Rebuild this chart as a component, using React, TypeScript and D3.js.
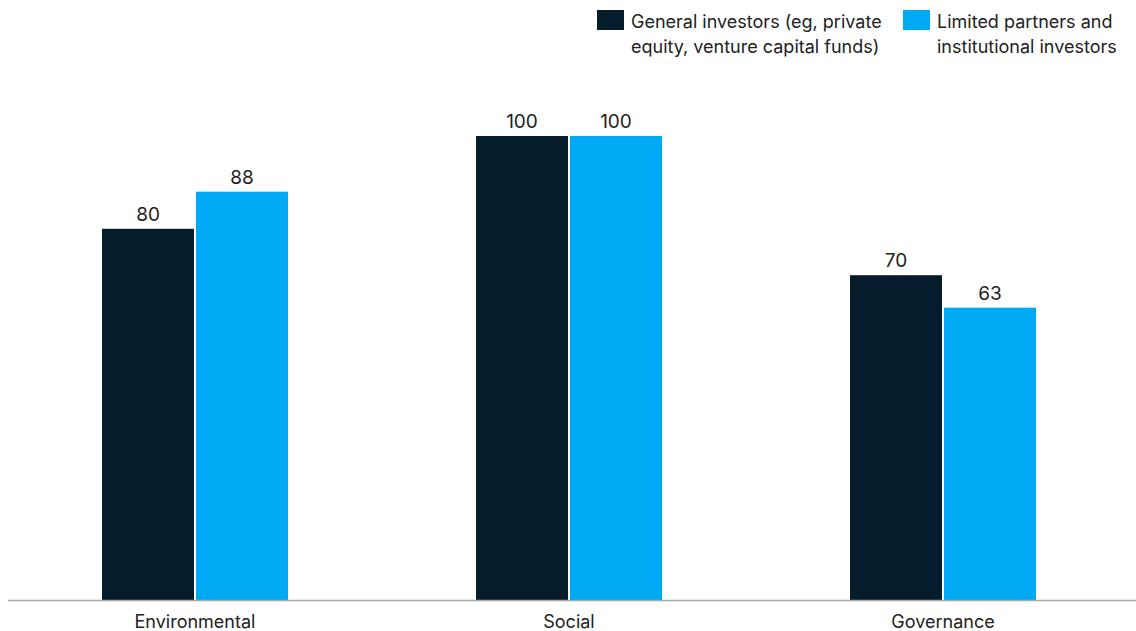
import React from "react";
import * as d3 from "d3";

const categories = ["Environmental", "Social", "Governance"];
const seriesNames = ["General investors (eg, private equity, venture capital funds)", "Limited partners and institutional investors"];
const generalInvestors = [80, 100, 70];
const limitedPartners = [88, 100, 63];
const legendLines = [
  ["General investors (eg, private", "equity, venture capital funds)"],
  ["Limited partners and", "institutional investors"],
];
const colors = ["#051c2c", "#00a9f4"];

export default function App() {
  const W = 1136, H = 631;
  const baseY = 600;
  const x0 = d3.scaleBand<string>().domain(categories).range([8, 1130]).padding(0);
  const y = d3.scaleLinear().domain([0, 100]).range([baseY, 136]);
  const barW = 92, gap = 2;
  const series = [generalInvestors, limitedPartners];
  const font = "Inter, 'Liberation Sans', Arial, sans-serif";
  const legendX = [597, 903];
  return (
    <div style={{ position: "absolute", left: 0, top: 0 }}>
      <svg width={W} height={H} style={{ display: "block" }} fontFamily={font}>
        <rect width={W} height={H} fill="#fff" />
        {legendLines.map((lines, i) => (
          <g key={i} aria-label={seriesNames[i]}>
            <rect x={legendX[i]} y={10} width={27} height={20} fill={colors[i]} />
            {lines.map((t, j) => (
              <text key={j} x={legendX[i] + 34} y={28 + j * 25} fontSize={18} fill="#222">{t}</text>
            ))}
          </g>
        ))}
        {categories.map((c, ci) => {
          const center = (x0(c) as number) + x0.bandwidth() / 2;
          return (
            <g key={c}>
              {series.map((s, si) => {
                const bx = si === 0 ? center - gap / 2 - barW : center + gap / 2;
                const v = s[ci];
                return (
                  <g key={si}>
                    <rect x={bx} y={y(v)} width={barW} height={baseY - y(v)} fill={colors[si]} />
                    <text x={bx + barW / 2} y={y(v) - 8} textAnchor="middle" fontSize={19} fill="#222">{v}</text>
                  </g>
                );
              })}
              <text x={center} y={628} textAnchor="middle" fontSize={18} fill="#222">{c}</text>
            </g>
          );
        })}
        <line x1={8} x2={1136} y1={baseY + 0.5} y2={baseY + 0.5} stroke="#a6a6a6" strokeWidth={1.5} />
      </svg>
    </div>
  );
}
